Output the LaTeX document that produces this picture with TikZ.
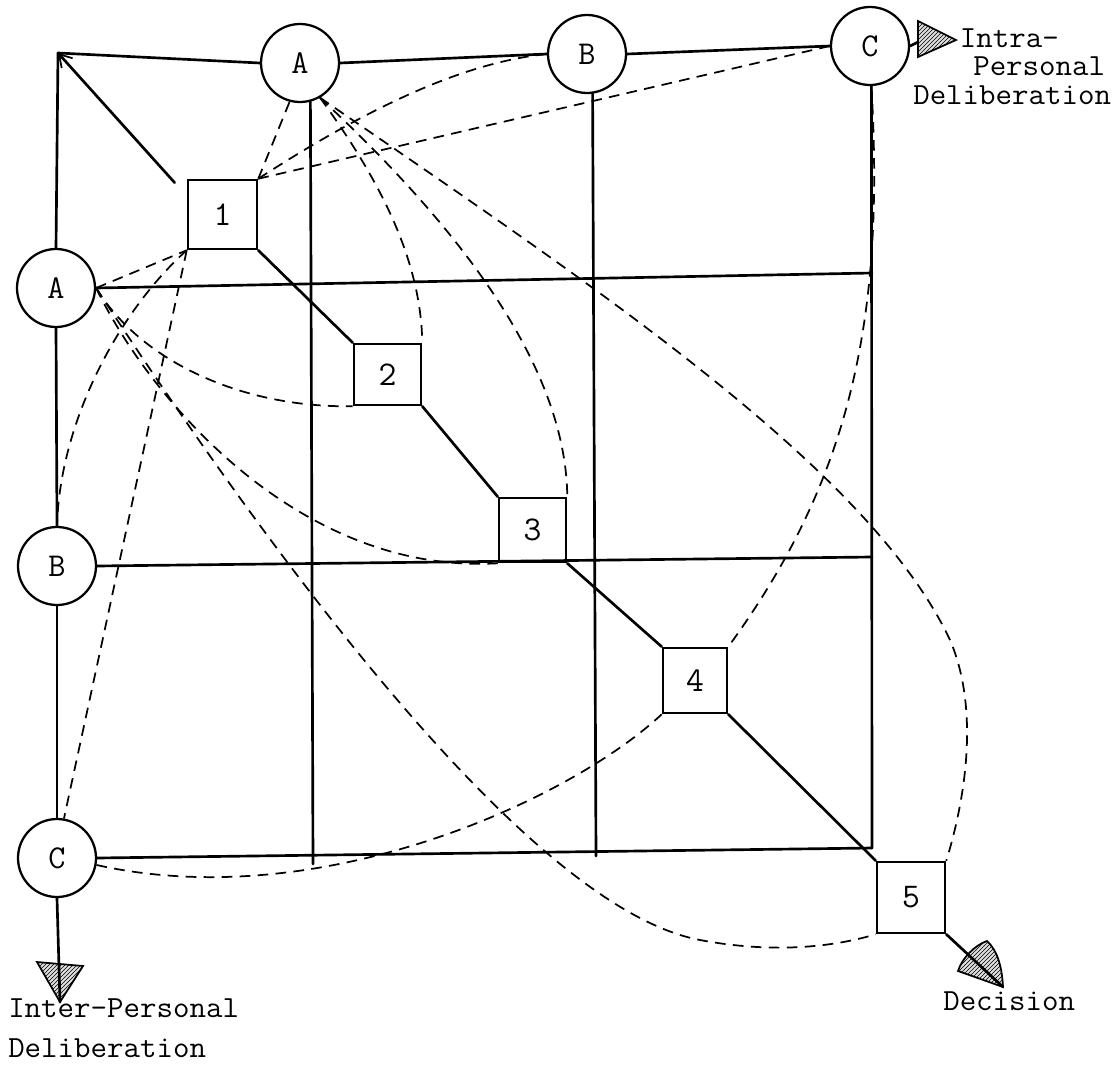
\documentclass[tikz,border=0pt]{standalone}
\usepackage{fontspec}
\usetikzlibrary{arrows.meta,patterns,calc}
\newcommand\twsq[1]{\scalebox{1.0}[0.96]{#1}}
\begin{document}
\begin{tikzpicture}[x=0.75pt,y=-0.75pt,
  sline/.style={line width=2pt, line cap=round},
  dline/.style={line width=1.3pt, dash pattern=on 8pt off 5.5pt},
  circ/.style={circle, draw, line width=1.7pt, minimum size=58.5pt, inner sep=0pt, font=\fontsize{25}{25}\selectfont\ttfamily},
  sq/.style={rectangle, draw, line width=1.9pt, inner sep=0pt, font=\fontsize{26}{26}\selectfont\ttfamily},
  lbl/.style={inner sep=0pt, align=left, font=\fontsize{24}{21.4}\selectfont\ttfamily},
  hatch/.style={draw, line width=1.3pt, preaction={fill=gray!25}, pattern=north east lines}
]
\useasboundingbox[fill=white] (0,0) rectangle (1120,1070);

% circles
\node[circ] (tA) at (300,63) {A};
\node[circ] (tB) at (587,54) {B};
\node[circ] (tC) at (870,46) {C};
\node[circ] (lA) at (56,288) {A};
\node[circ] (lB) at (57,566) {B};
\node[circ] (lC) at (57,858) {C};

% boxes
\node[sq, minimum width=51.75pt, minimum height=51.75pt] (b1) at (222.5,214.5) {1};
\node[sq, minimum width=50.25pt, minimum height=45.75pt] (b2) at (387.5,374.5) {2};
\node[sq, minimum width=50.25pt, minimum height=48pt] (b3) at (532.5,530) {3};
\node[sq, minimum width=48pt, minimum height=48.75pt] (b4) at (695,680.5) {4};
\node[sq, minimum width=51pt, minimum height=53.25pt] (b5) at (911,897.5) {5};

% coordinates
\coordinate (corner) at (58,53);
\coordinate (gA) at (313,864);
\coordinate (gB) at (596,856);
\coordinate (gC) at (872,848);
\coordinate (rA) at (872,273);
\coordinate (rB) at (872,557);
\coordinate (intraBase) at (918,42);
\coordinate (interTip) at (60,1002);
\coordinate (decTip) at (1003,987);

% dashed connectors
\draw[dline] (b1.north east) -- (tA.255);
\draw[dline] (b1.north east) .. controls (380,100) and (470,62) .. (tB.west);
\draw[dline] (b1.north east) -- (tC.west);
\draw[dline] (tA.-60) .. controls (380,180) and (421,260) .. (b2.north east);
\draw[dline] (tA.-60) .. controls (430,200) and (566,350) .. (b3.north east);
\draw[dline] (tA.-60) .. controls (600,290) and (870,470) .. (950,640)
                      .. controls (980,710) and (965,800) .. (b5.north east);
\draw[dline] (tC.-88) .. controls (885,320) and (850,480) .. (b4.north east);
\draw[dline] (lA.east) -- (b1.south west);
\draw[dline] (b1.south west) .. controls (120,310) and (60,420) .. (lB.north);
\draw[dline] (b1.south west) -- (lC.80);
\draw[dline] (lA.east) .. controls (140,360) and (240,408) .. (b2.south west);
\draw[dline] (lA.east) .. controls (150,400) and (300,575) .. (b3.south west);
\draw[dline] (lA.east) .. controls (300,600) and (540,910) .. (700,940)
                      .. controls (780,955) and (840,945) .. (b5.south west);
\draw[dline] (lC.-10) .. controls (320,915) and (570,800) .. (b4.south west);

% solid frame
\draw[sline] (corner) -- (tA.west);
\draw[sline] (tA.east) -- (tB.west);
\draw[sline] (tB.east) -- (tC.west);
\draw[sline] (tC.east) -- (intraBase);
\draw[sline] (corner) -- (lA.north);
\draw[sline] (lA.south) -- (lB.north);
\draw[sline] (lB.south) -- (lC.north);
\draw[sline] (tA.-75) -- (gA);
\draw[sline] (tB.-82) -- (gB);
\draw[sline] (tC.-88) -- (gC);
\draw[sline] (lA.east) -- (rA);
\draw[sline] (lB.east) -- (rB);
\draw[sline] (lC.east) -- (gC);

% diagonal chain
\draw[sline, -{Straight Barb[length=9pt,width=11pt,line width=1.3pt]}] ([shift={(-12,4)}]b1.north west) -- (corner);
\draw[sline] (b1.south east) -- (b2.north west);
\draw[sline] (b2.south east) -- (b3.north west);
\draw[sline] (b3.south east) -- (b4.north west);
\draw[sline] (b4.south east) -- (b5.north west);

% arrowheads
\draw[hatch] (918,21) -- (956,40) -- (918,57) -- cycle;
\draw[hatch] (37,962) -- (83,966) -- (interTip) -- cycle;
\draw[sline] (lC.south) -- (interTip);
\draw[hatch] (decTip) -- (958,971) .. controls (962,958) and (975,945) .. (987,941)
             .. controls (997,950) and (1002,966) .. cycle;
\draw[sline] (b5.south east) -- (decTip);

% labels
\node[lbl, anchor=north west] (intraLbl) at (913,28)
  {\hspace*{35pt}\twsq{Intra-}\\\hspace*{45pt}\twsq{Personal}\\\twsq{Deliberation}};
\node[lbl, anchor=north west, font=\fontsize{24}{30.5}\selectfont\ttfamily] (interLbl) at (8,998)
  {\twsq{Inter-Personal}\\\twsq{Deliberation}};
\node[lbl, anchor=north west] (decLbl) at (943,991) {\twsq{Decision}};
\end{tikzpicture}
\end{document}
